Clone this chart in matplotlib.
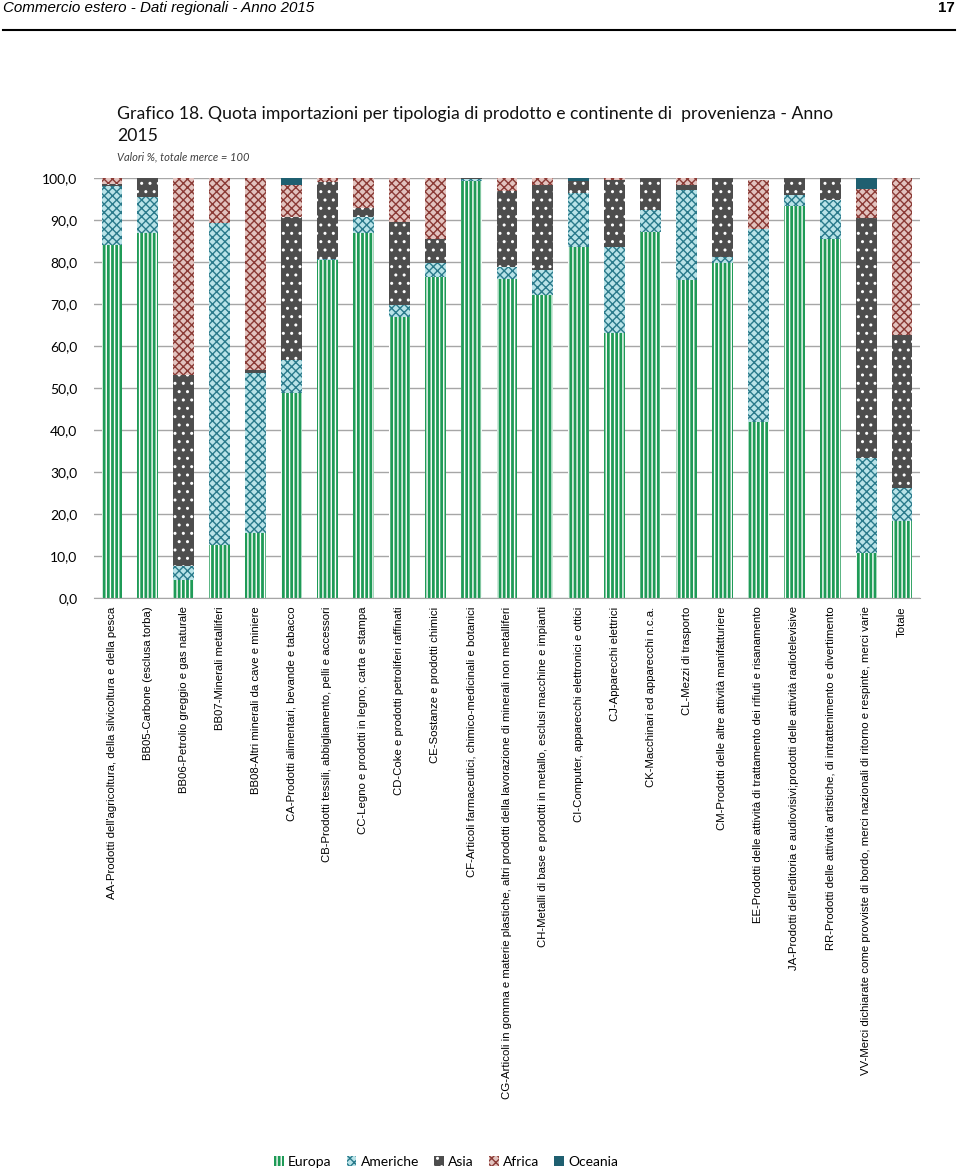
import matplotlib
matplotlib.use('Agg')
import matplotlib.pyplot as plt
from matplotlib.lines import Line2D
import numpy as np

categories = [
    "AA-Prodotti dell'agricoltura, della silvicoltura e della pesca",
    "BB05-Carbone (esclusa torba)",
    "BB06-Petrolio greggio e gas naturale",
    "BB07-Minerali metalliferi",
    "BB08-Altri minerali da cave e miniere",
    "CA-Prodotti alimentari, bevande e tabacco",
    "CB-Prodotti tessili, abbigliamento, pelli e accessori",
    "CC-Legno e prodotti in legno; carta e stampa",
    "CD-Coke e prodotti petroliferi raffinati",
    "CE-Sostanze e prodotti chimici",
    "CF-Articoli farmaceutici, chimico-medicinali e botanici",
    "CG-Articoli in gomma e materie plastiche, altri prodotti della lavorazione di minerali non metalliferi",
    "CH-Metalli di base e prodotti in metallo, esclusi macchine e impianti",
    "CI-Computer, apparecchi elettronici e ottici",
    "CJ-Apparecchi elettrici",
    "CK-Macchinari ed apparecchi n.c.a.",
    "CL-Mezzi di trasporto",
    "CM-Prodotti delle altre attività manifatturiere",
    "EE-Prodotti delle attività di trattamento dei rifiuti e risanamento",
    "JA-Prodotti dell'editoria e audiovisivi;prodotti delle attività radiotelevisive",
    "RR-Prodotti delle attivita' artistiche, di intrattenimento e divertimento",
    "VV-Merci dichiarate come provviste di bordo, merci nazionali di ritorno e respinte, merci varie",
    "Totale",
]

europa   = [84.0, 86.8, 4.3, 12.6, 15.5, 48.9, 80.4, 86.8, 66.8, 76.5, 99.3, 75.9, 72.1, 83.6, 63.0, 87.2, 75.6, 79.8, 42.0, 93.3, 85.4, 10.8, 18.4]
americhe = [14.2, 8.7, 3.3, 76.8, 38.1, 7.8, 0.3, 4.0, 3.0, 3.2, 0.5, 3.0, 6.0, 12.8, 20.6, 5.3, 21.5, 1.3, 45.8, 2.6, 9.4, 22.5, 7.9]
asia     = [0.3, 4.5, 45.5, 0.0, 0.8, 34.1, 18.3, 2.0, 19.8, 5.7, 0.2, 18.1, 20.2, 2.9, 16.0, 7.5, 1.2, 18.9, 0.0, 4.1, 5.2, 57.1, 36.3]
africa   = [1.5, 0.0, 46.9, 10.6, 45.6, 7.5, 1.0, 7.2, 10.4, 14.6, 0.0, 3.0, 1.7, 0.0, 0.4, 0.0, 1.7, 0.0, 11.7, 0.0, 0.0, 6.9, 37.4]
oceania  = [0.0, 0.0, 0.0, 0.0, 0.0, 1.7, 0.0, 0.0, 0.0, 0.0, 0.0, 0.0, 0.0, 0.7, 0.0, 0.0, 0.0, 0.0, 0.0, 0.0, 0.0, 2.7, 0.0]

series_names = ["Europa", "Americhe", "Asia", "Africa", "Oceania"]
yticks = [0, 10, 20, 30, 40, 50, 60, 70, 80, 90, 100]

plt.rcParams['font.family'] = ['Liberation Sans', 'DejaVu Sans']
plt.rcParams['hatch.linewidth'] = 1.0

fig = plt.figure(figsize=(9.6, 11.72), dpi=100)
ax = fig.add_axes([94 / 960, 1 - 598 / 1172, 826 / 960, 420 / 1172])

styles = [
    dict(color='#1f9b57', edgecolor='white', hatch='||||'),
    dict(color='#b9e3e8', edgecolor='#2a7a8b', hatch='xxxx'),
    dict(color='#4d4d4d', edgecolor='white', hatch='..'),
    dict(color='#e2c3bf', edgecolor='#8a3a35', hatch='xxxx'),
    dict(color='#1f5f70', edgecolor='#1f5f70', hatch=None),
]

x = np.arange(len(categories))
bottom = np.zeros(len(categories))
for name, vals, st in zip(series_names, [europa, americhe, asia, africa, oceania], styles):
    v = np.array(vals)
    ax.bar(x, v, 0.58, bottom=bottom, label=name, linewidth=0, **st)
    bottom += v

ax.set_xlim(-0.5, len(categories) - 0.5)
ax.set_ylim(0, 100)
ax.set_yticks(yticks)
ax.set_yticklabels([f"{v:.1f}".replace('.', ',') for v in yticks], fontfamily='Lato', fontsize=10)
ax.yaxis.grid(True, color='#a6a6a6', lw=1)
ax.set_axisbelow(True)
for s in ['left', 'right', 'top']:
    ax.spines[s].set_visible(False)
ax.spines['bottom'].set_color('#a6a6a6')
ax.tick_params(axis='y', length=0, pad=12)
ax.tick_params(axis='x', length=0, pad=6)
ax.set_xticks(x)
ax.set_xticklabels(categories, rotation=90, fontsize=8.2, va='top', ha='center')

# header
fig.text(3 / 960, 1 - 8 / 1172, 'Commercio estero - Dati regionali - Anno 2015',
         style='italic', fontsize=10.9, va='center', ha='left')
fig.text(955 / 960, 1 - 8 / 1172, '17', fontsize=10.9, fontweight='bold', va='center', ha='right')
fig.add_artist(Line2D([3 / 960, 955 / 960], [1 - 30 / 1172] * 2, color='black', lw=1.5))

# title
fig.text(117 / 960, 1 - 114 / 1172,
         'Grafico 18. Quota importazioni per tipologia di prodotto e continente di  provenienza - Anno',
         fontfamily='Lato', fontsize=12.7, va='center', ha='left', color='#111111')
fig.text(117 / 960, 1 - 136 / 1172, '2015', fontfamily='Lato', fontsize=12.7,
         va='center', ha='left', color='#111111')
fig.text(117 / 960, 1 - 157 / 1172, 'Valori %, totale merce = 100', fontfamily='Lato',
         style='italic', fontsize=8, va='center', ha='left', color='#404040')

fig.legend(loc='center', bbox_to_anchor=(446 / 960, 1 - 1162 / 1172), ncol=5, frameon=False,
           prop={'family': 'Lato', 'size': 10}, handlelength=0.7, handleheight=0.7,
           columnspacing=1.1, handletextpad=0.3)

fig.savefig('out.png', dpi=100)
